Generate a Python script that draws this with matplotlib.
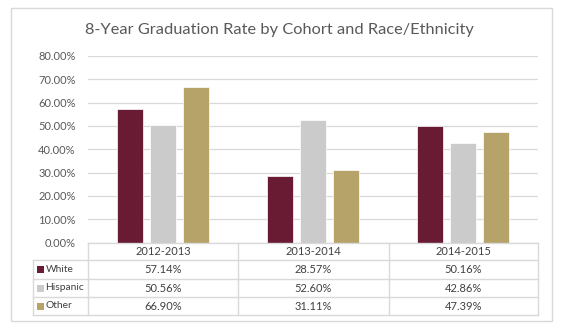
import matplotlib
matplotlib.use("Agg")
import matplotlib.pyplot as plt
from matplotlib.patches import Rectangle
from matplotlib.lines import Line2D
import numpy as np

title = "8-Year Graduation Rate by Cohort and Race/Ethnicity"
cohorts = ["2012-2013", "2013-2014", "2014-2015"]
series_names = ["White", "Hispanic", "Other"]
white = [57.14, 28.57, 50.16]
hispanic = [50.56, 52.60, 42.86]
other = [66.90, 31.11, 47.39]
yticks = [0, 10, 20, 30, 40, 50, 60, 70, 80]
colors = ["#6A1B34", "#CBCBCB", "#B6A36A"]

W, H = 562, 325
fig = plt.figure(figsize=(W / 100, H / 100), dpi=100)
plt.rcParams['font.family'] = ['Lato', 'DejaVu Sans']

def fx(px):
    return px / W

def fy(py):
    return 1 - py / H

# outer border
fig.add_artist(Rectangle((fx(11), fy(321)), fx(552) - fx(11), fy(8) - fy(321),
                         transform=fig.transFigure, fill=False, ec="#D9D9D9", lw=1))

left, right, top, bottom = 88, 538, 56, 242.5
ax = fig.add_axes([fx(left), fy(bottom), fx(right) - fx(left), fy(top) - fy(bottom)])
ax.set_xlim(0, 3)
ax.set_ylim(0, 80)
for s in ax.spines.values():
    s.set_visible(False)
ax.set_yticks(yticks)
ax.set_yticklabels([f"{v:.2f}%" for v in yticks], color="#595959", fontsize=8)
ax.tick_params(axis="y", length=0, pad=9)
ax.set_xticks([])
ax.grid(axis="y", color="#D9D9D9", lw=0.9)
ax.set_axisbelow(True)

data = [white, hispanic, other]
bw = 26 / 150
gap = 7 / 150
x = np.arange(3) + 0.5
for i, (vals, c) in enumerate(zip(data, colors)):
    ax.bar(x + (i - 1) * (bw + gap), vals, width=bw, color=c, edgecolor="white", lw=0.5, zorder=3)

fig.text(fx(279), fy(30), title, ha="center", va="center", fontsize=11.8, color="#595959")

# table
lc = "#D9D9D9"
rows_y = [243, 260, 279, 297, 315]
cols_x = [33, 88, 238, 389, 538]
tc = "#404040"
def hline(x0, x1, y):
    fig.add_artist(Line2D([fx(x0), fx(x1)], [fy(y), fy(y)], transform=fig.transFigure, color=lc, lw=1))
def vline(x0, y0, y1):
    fig.add_artist(Line2D([fx(x0), fx(x0)], [fy(y0), fy(y1)], transform=fig.transFigure, color=lc, lw=1))

hline(cols_x[1], cols_x[-1], rows_y[0])
for y in rows_y[1:]:
    hline(cols_x[0], cols_x[-1], y)
vline(cols_x[0], rows_y[1], rows_y[-1])
for xx in cols_x[1:]:
    vline(xx, rows_y[0], rows_y[-1])

for j, c in enumerate(cohorts):
    cx = (cols_x[j + 1] + cols_x[j + 2]) / 2
    fig.text(fx(cx), fy((rows_y[0] + rows_y[1]) / 2), c, ha="center", va="center", fontsize=8, color=tc)
for i, (name, vals, col) in enumerate(zip(series_names, data, colors)):
    cy = (rows_y[i + 1] + rows_y[i + 2]) / 2
    fig.add_artist(Rectangle((fx(36.5), fy(cy + 3.5)), fx(7), fy(0) - fy(7), transform=fig.transFigure,
                             color=col, lw=0))
    fig.text(fx(45.5), fy(cy), name, ha="left", va="center", fontsize=7.4, color=tc)
    for j, v in enumerate(vals):
        cx = (cols_x[j + 1] + cols_x[j + 2]) / 2
        fig.text(fx(cx), fy(cy), f"{v:.2f}%", ha="center", va="center", fontsize=8, color=tc)

fig.savefig("out.png", dpi=100, facecolor="white")
